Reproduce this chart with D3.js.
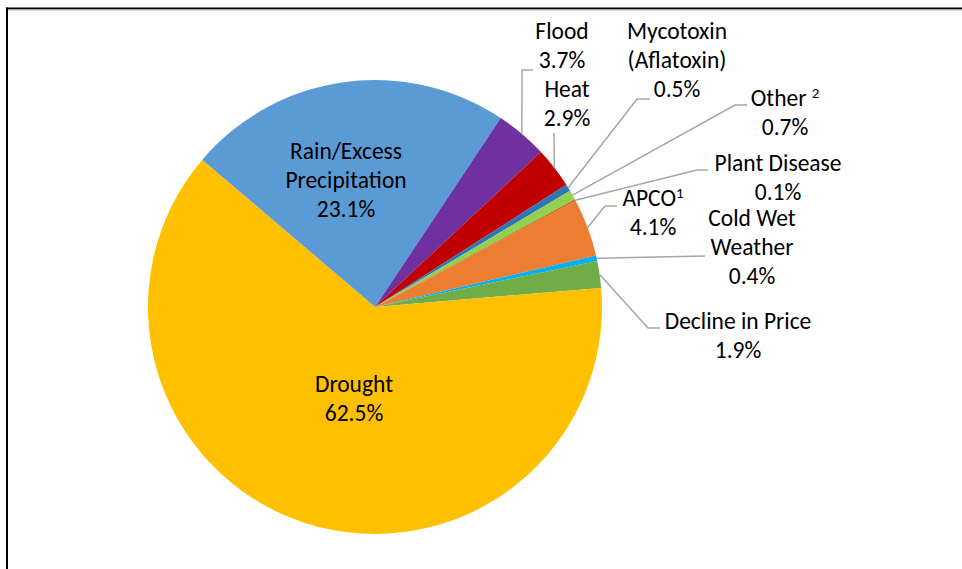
<!DOCTYPE html>
<html>
<head>
<meta charset="utf-8">
<script src="https://cdn.jsdelivr.net/npm/d3@7/dist/d3.min.js"></script>
<style>
  html, body { margin: 0; padding: 0; background: #fff; }
  svg { display: block; }
  text { font-family: Carlito, Calibri, "Open Sans", sans-serif; fill: #000; }
</style>
</head>
<body>
<svg id="chart" width="962" height="569"></svg>
<script>
// Causes of loss, share of indemnities (%)
const categories = ["Rain/Excess Precipitation", "Flood", "Heat", "Mycotoxin (Aflatoxin)", "Other", "Plant Disease", "APCO", "Cold Wet Weather", "Decline in Price", "Drought"];
const values = [23.1, 3.7, 2.9, 0.5, 0.7, 0.1, 4.1, 0.4, 1.9, 62.5];
const colors = ["#5B9BD5", "#7030A0", "#C00000", "#2E75B6", "#92D050", "#C55A11", "#ED7D31", "#00B0F0", "#70AD47", "#FFC000"];
// Label text lines (last line is the percentage); footnote marks drawn as superscripts
const labelLines = [["Rain/Excess", "Precipitation"], ["Flood"], ["Heat"], ["Mycotoxin", "(Aflatoxin)"], ["Other "], ["Plant Disease"], ["APCO"], ["Cold Wet", "Weather"], ["Decline in Price"], ["Drought"]];
const footnotes = ["", "", "", "", "2", "", "1", "", "", ""];

const svg = d3.select("#chart");
const cx = 375, cy = 307, r = 227;
const fontSize = 23.5, lineH = 28.8;

// frame edges
svg.append("line").attr("x1", 7).attr("x2", 7).attr("y1", 7.5).attr("y2", 569).attr("stroke", "#000").attr("stroke-width", 2);
svg.append("line").attr("x1", 6).attr("x2", 962).attr("y1", 8.5).attr("y2", 8.5).attr("stroke", "#000").attr("stroke-width", 2);
svg.append("line").attr("x1", 8).attr("x2", 962).attr("y1", 10).attr("y2", 10).attr("stroke", "#BFBFBF").attr("stroke-width", 1);

const pie = d3.pie().sort(null).value(d => d)
  .startAngle(-49.6 * Math.PI / 180)
  .endAngle(-49.6 * Math.PI / 180 + 2 * Math.PI);
const arcs = pie(values);
const arc = d3.arc().innerRadius(0).outerRadius(r);
const edge = d3.arc().innerRadius(r).outerRadius(r);

const g = svg.append("g").attr("transform", `translate(${cx},${cy})`);
g.selectAll("path.slice").data(arcs).enter().append("path")
  .attr("class", "slice")
  .attr("d", arc)
  .attr("fill", (d, i) => colors[i]);

// label placement: anchor (centre x, first baseline) and leader route
const layout = [
  { x: 346, y: 159, leader: null },
  { x: 562, y: 39, leader: [[522, 70], [533, 70]] },
  { x: 567, y: 97, leader: [[554, 133]] },
  { x: 677, y: 39, leader: [[637, 99], [650, 99]] },
  { x: 785, y: 106, leader: [[735, 105], [747, 105]] },
  { x: 778, y: 171, leader: [[697, 170], [708, 170]] },
  { x: 653, y: 206, leader: [[605, 206], [617, 206]] },
  { x: 752, y: 226, leader: [[705, 256]] },
  { x: 738, y: 329, leader: [[648, 328], [660, 328]] },
  { x: 354, y: 392, leader: null }
];

const line = d3.line();
arcs.forEach((d, i) => {
  const L = layout[i];
  if (L.leader) {
    const s = edge.centroid(d);
    const pts = [[s[0] + cx, s[1] + cy]].concat(L.leader);
    svg.append("path").attr("d", line(pts))
      .attr("fill", "none").attr("stroke", "#A6A6A6").attr("stroke-width", 1.5);
  }
  const t = svg.append("text").attr("text-anchor", "middle").attr("font-size", fontSize);
  const lines = labelLines[i].concat([d3.format(".1f")(values[i]) + "%"]);
  lines.forEach((txt, k) => {
    t.append("tspan").attr("x", L.x).attr("y", L.y + k * lineH).text(txt);
    if (k === 0 && footnotes[i]) {
      t.append("tspan").attr("font-size", 15).attr("dy", -8).text(footnotes[i]);
    }
  });
});
</script>
</body>
</html>
